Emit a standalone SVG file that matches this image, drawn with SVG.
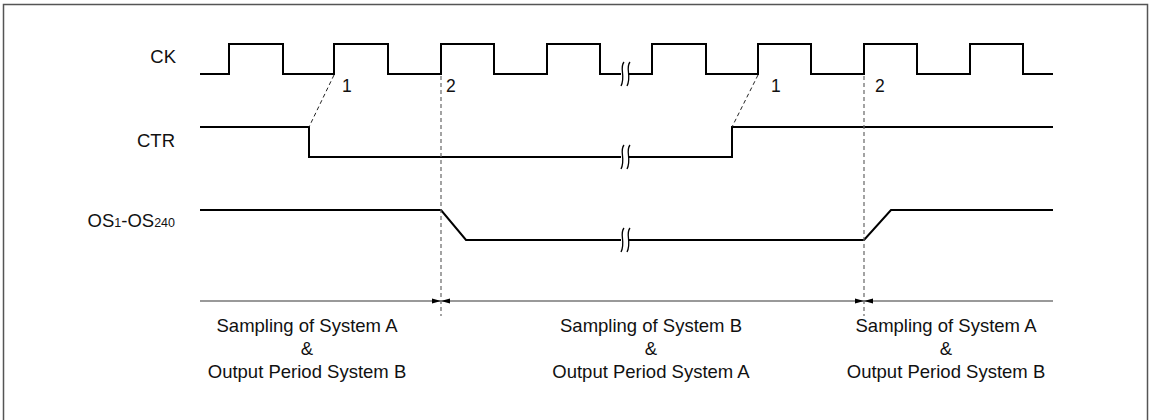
<svg xmlns="http://www.w3.org/2000/svg" width="1153" height="420" viewBox="0 0 1153 420">
<style>
text{font-family:"Liberation Sans",Arial,sans-serif;font-size:18.5px;fill:#111}
.lbl{text-anchor:end}
.mid{text-anchor:middle}
.num{font-size:17.5px}
.sig{fill:none;stroke:#000;stroke-width:2}
.brk{fill:none;stroke:#000;stroke-width:1.3}
.dash{fill:none;stroke:#666;stroke-width:1.2;stroke-dasharray:4,3}
.diag{fill:none;stroke:#222;stroke-width:1;stroke-dasharray:4,3}
.axis{fill:none;stroke:#777;stroke-width:1.5}
.ah{fill:#000}
</style>
<rect x="3.5" y="4.5" width="1144" height="440" fill="#fff" stroke="#555" stroke-width="1.5"/>
<g id="labels">
<text class="lbl" x="176" y="63">CK</text>
<text class="lbl" x="175" y="147">CTR</text>
<text class="lbl" x="175" y="227">OS<tspan font-size="12.5px">1</tspan>-OS<tspan font-size="12.5px">240</tspan></text>
</g>
<g id="ck">
<path class="sig" d="M200,74 H229 V44 H283 V74 H334 V44 H388 V74 H441 V44 H494 V74 H547 V44 H600 V74 H621 M629,74 H652 V44 H706 V74 H758 V44 H811 V74 H864 V44 H917 V74 H970 V44 H1023 V74 H1053"/>
<path class="brk" d="M624,62 C619,68 626,76 621,86 M630,62 C625,68 632,76 627,86"/>
<text class="num" x="342" y="92">1</text>
<text class="num" x="446" y="92">2</text>
<text class="num" x="771" y="92">1</text>
<text class="num" x="875" y="92">2</text>
</g>
<g id="ctr">
<path class="sig" d="M200,127 H309 V157 H621 M629,157 H732 V127 H1053"/>
<path class="brk" d="M624,145 C619,151 626,159 621,169 M630,145 C625,151 632,159 627,169"/>
</g>
<g id="os">
<path class="sig" d="M200,210 H441 L466,240 H621 M629,240 H864 L891,210 H1053"/>
<path class="brk" d="M624,228 C619,234 626,242 621,252 M630,228 C625,234 632,242 627,252"/>
</g>
<g id="connectors">
<path class="diag" d="M334,75 L309,127"/>
<path class="diag" d="M758,75 L732,127"/>
<path class="dash" d="M441,76 V316"/>
<path class="dash" d="M864,76 V316" stroke="#222"/>
<path class="axis" d="M200,301 H1053"/>
<polygon class="ah" points="432,298.5 441,301 432,303.5"/>
<polygon class="ah" points="450,298.5 441,301 450,303.5"/>
<polygon class="ah" points="855,298.5 864,301 855,303.5"/>
<polygon class="ah" points="873,298.5 864,301 873,303.5"/>
</g>
<g id="period1">
<text class="mid" x="307" y="332">Sampling of System A</text>
<text class="mid" x="307" y="355">&amp;</text>
<text class="mid" x="307" y="378">Output Period System B</text>
</g>
<g id="period2">
<text class="mid" x="651" y="332">Sampling of System B</text>
<text class="mid" x="651" y="355">&amp;</text>
<text class="mid" x="651" y="378">Output Period System A</text>
</g>
<g id="period3">
<text class="mid" x="946" y="332">Sampling of System A</text>
<text class="mid" x="946" y="355">&amp;</text>
<text class="mid" x="946" y="378">Output Period System B</text>
</g>
</svg>
